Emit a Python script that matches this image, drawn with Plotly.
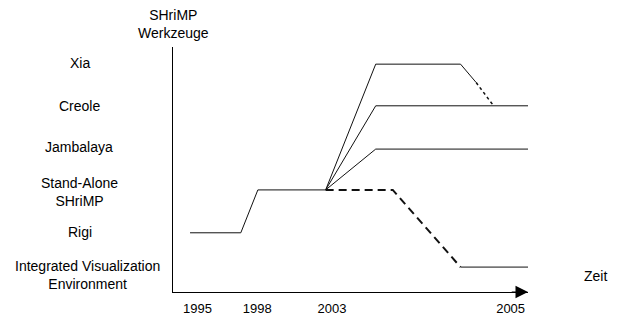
import plotly.graph_objects as go

# Schematic time axis (0..10) and tool levels (0..6)
tick_pos = [0.69, 2.37, 4.48, 9.51]
tick_labels = ["1995", "1998", "2003", "2005"]

tools = ["Integrated Visualization<br>Environment", "Rigi", "Stand-Alone<br>SHriMP",
         "Jambalaya", "Creole", "Xia"]
label_levels = [0.41, 1.47, 2.46, 3.56, 4.55, 5.62]
label_xpos = [-0.242, -0.262, -0.262, -0.264, -0.262, -0.262]

# Level of each tool's line
lvl_ive, lvl_rigi, lvl_sa, lvl_jamb, lvl_creole, lvl_xia = 0.61, 1.45, 2.50, 3.50, 4.56, 5.58

# Time points
t_rigi_start, t_rigi_end, t_sa_start, t_branch = 0.48, 1.91, 2.39, 4.30
t_new_tools, t_sa_end, t_xia_end, t_xia_fade, t_xia_merge, t_end = 5.71, 6.19, 8.10, 8.54, 9.03, 10.0
lvl_xia_fade = 5.13

rigi_sa_x = [t_rigi_start, t_rigi_end, t_sa_start, t_branch]
rigi_sa_y = [lvl_rigi, lvl_rigi, lvl_sa, lvl_sa]
jamb_x = [t_branch, t_new_tools, t_end]
jamb_y = [lvl_sa, lvl_jamb, lvl_jamb]
creole_x = [t_branch, t_new_tools, t_end]
creole_y = [lvl_sa, lvl_creole, lvl_creole]
xia_x = [t_branch, t_new_tools, t_xia_end, t_xia_fade]
xia_y = [lvl_sa, lvl_xia, lvl_xia, lvl_xia_fade]
xia_dot_x = [t_xia_fade, t_xia_merge]
xia_dot_y = [lvl_xia_fade, lvl_creole]
sa_dash_x = [t_branch, t_sa_end, t_xia_end]
sa_dash_y = [lvl_sa, lvl_sa, lvl_ive]
ive_x = [t_xia_end, t_end]
ive_y = [lvl_ive, lvl_ive]

FONT = "Arial, Liberation Sans, sans-serif"
LBL = 14
fig = go.Figure()

def add(x, y, dash="solid", width=1):
    fig.add_trace(go.Scatter(x=x, y=y, mode="lines", cliponaxis=False,
                             line=dict(color="#111", width=width, dash=dash),
                             hoverinfo="skip", showlegend=False))

add(rigi_sa_x, rigi_sa_y)
add(jamb_x, jamb_y)
add(creole_x, creole_y)
add(xia_x, xia_y)
add(xia_dot_x, xia_dot_y, dash="dot", width=1.5)
add(sa_dash_x, sa_dash_y, dash="8px,5px", width=2)
add(ive_x, ive_y)

annotations = []
for name, lv, lx in zip(tools, label_levels, label_xpos):
    annotations.append(dict(text=name, x=lx, xref="paper", y=lv, yref="y",
                            showarrow=False, xanchor="center", yanchor="middle",
                            font=dict(size=LBL, family=FONT, color="black")))
annotations.append(dict(text="SHriMP<br>Werkzeuge", x=0, xref="paper", y=1.094, yref="paper",
                        showarrow=False, xanchor="center", yanchor="middle",
                        font=dict(size=LBL, family=FONT, color="black")))
annotations.append(dict(text="Zeit", x=1.19, xref="paper", y=0.39, yref="y",
                        showarrow=False, xanchor="center", yanchor="middle",
                        font=dict(size=LBL, family=FONT, color="black")))
annotations.append(dict(x=10, y=0, xref="x", yref="y", ax=9.5, ay=0, axref="x", ayref="y",
                        showarrow=True, arrowhead=2, arrowsize=2.5, arrowwidth=1,
                        arrowcolor="black", text=""))

# page body adds an 8px margin, so the figure is sized to fit the 624x315 window
fig.update_layout(
    width=616, height=307,
    margin=dict(l=165, r=96, t=39, b=23, autoexpand=False),
    plot_bgcolor="white", paper_bgcolor="white",
    font=dict(family=FONT, size=13, color="black"),
    annotations=annotations,
    xaxis=dict(range=[0, 10], showline=True, linecolor="black", linewidth=1,
               showgrid=False, zeroline=False, tickvals=tick_pos, ticktext=tick_labels,
               ticks="", ticklabelstandoff=4, tickfont=dict(size=13), automargin=False),
    yaxis=dict(range=[0, 6], showline=True, linecolor="black", linewidth=1,
               showgrid=False, zeroline=False, showticklabels=False, ticks="",
               automargin=False),
)

fig.write_html("out.html")
